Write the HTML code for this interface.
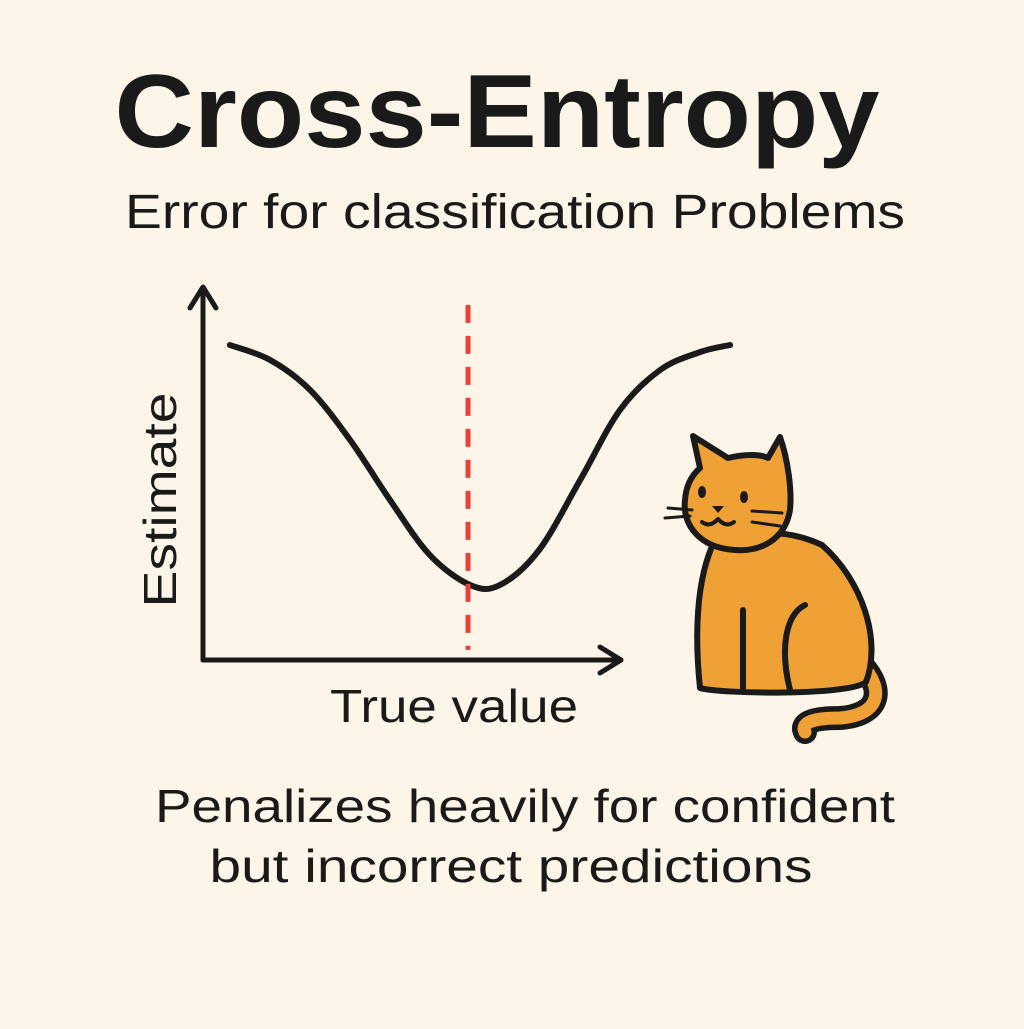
<!DOCTYPE html>
<html><head><meta charset="utf-8"><style>
html,body{margin:0;padding:0;background:#fdf5e8;}
body{width:1024px;height:1024px;overflow:hidden;position:relative;font-family:"Liberation Sans","DejaVu Sans",sans-serif;color:#1a1a1a;}
</style></head><body>
<svg width="1024" height="1024" viewBox="0 0 1024 1024">
<rect width="1024" height="1024" fill="#fdf5e8"/>
<text x="497" y="147" text-anchor="middle" font-size="104" font-weight="bold" font-family="Liberation Sans, sans-serif" fill="#1a1a1a" textLength="765" lengthAdjust="spacingAndGlyphs">Cross-Entropy</text>
<text x="515" y="228" text-anchor="middle" font-size="48" font-family="Liberation Sans, sans-serif" fill="#1a1a1a" textLength="780" lengthAdjust="spacingAndGlyphs">Error for classification Problems</text>
<g id="chart">
<line x1="203" y1="660" x2="203" y2="288" stroke="#1a1a1a" stroke-width="5" stroke-linecap="round"/>
<polyline points="190,308 203,287 216,308" fill="none" stroke="#1a1a1a" stroke-width="5" stroke-linecap="round" stroke-linejoin="round"/>
<line x1="203" y1="660" x2="620" y2="660" stroke="#1a1a1a" stroke-width="5" stroke-linecap="round"/>
<polyline points="600,647 621,660 600,673" fill="none" stroke="#1a1a1a" stroke-width="5" stroke-linecap="round" stroke-linejoin="round"/>
<text transform="translate(176,500) rotate(-90)" text-anchor="middle" font-size="46" fill="#1a1a1a" textLength="215" lengthAdjust="spacingAndGlyphs">Estimate</text>
<text x="454" y="722" text-anchor="middle" font-size="46" fill="#1a1a1a" textLength="248" lengthAdjust="spacingAndGlyphs">True value</text>
</g>
<text x="525" y="822" text-anchor="middle" font-size="46" fill="#1a1a1a" textLength="740" lengthAdjust="spacingAndGlyphs">Penalizes heavily for confident</text>
<text x="511" y="882" text-anchor="middle" font-size="46" fill="#1a1a1a" textLength="603" lengthAdjust="spacingAndGlyphs">but incorrect predictions</text>
<g stroke="#1a1a1a" stroke-width="6" stroke-linejoin="round" stroke-linecap="round">
<path d="M862,665 C885,690 880,715 840,718 C815,718 800,722 805,732" fill="none" stroke="#1a1a1a" stroke-width="24"/>
<path d="M862,665 C885,690 880,715 840,718 C815,718 800,722 805,732" fill="none" stroke="#f0a135" stroke-width="13"/>
<path d="M715,540 C695,580 695,640 700,688 C720,694 850,696 866,682 C882,640 862,580 822,545 C790,530 760,530 715,540 Z" fill="#f0a135"/>
<path d="M700,468 L693,436 L728,458 C745,454 760,454 768,458 L780,437 C788,460 792,490 790,510 C785,540 760,552 735,550 C700,548 682,525 685,500 C686,485 692,475 700,468 Z" fill="#f0a135"/>
<line x1="743" y1="610" x2="743" y2="688"/>
<path d="M805,605 C785,615 780,650 790,690" fill="none"/>
<g stroke="none" fill="#1a1a1a">
<ellipse cx="702" cy="492" rx="4" ry="6"/><ellipse cx="744" cy="497" rx="4" ry="6"/>
<path d="M712,506 l12,0 l-6,7 z"/>
</g>
<path d="M702,522 q8,6 16,-3 q8,9 16,3" fill="none" stroke-width="4"/>
<path d="M668,508 l24,2 M665,518 l25,-2 M752,511 l30,2 M752,522 l28,4" fill="none" stroke-width="3"/>
</g>
</svg>
<script>
const curveX = [0.64, 1.6, 2.55, 3.5, 4.45, 5.4, 6.36, 7.07, 8.0, 8.98, 9.93, 10.88, 11.83, 12.55];
const curveY = [8.4, 8.0, 7.2, 5.87, 4.27, 2.8, 2.0, 2.0, 2.93, 4.8, 6.67, 7.73, 8.21, 8.4];
const thresholdX = [6.31];
const thresholdY = [0.27, 9.47];
const sx = v => 203 + v * 42;
const sy = v => 660 - v * 37.5;
const chart = document.getElementById('chart');
const NS = 'http://www.w3.org/2000/svg';
const pts = curveX.map((x, i) => [sx(x), sy(curveY[i])]);
let d = 'M' + pts[0][0] + ',' + pts[0][1];
for (let i = 0; i < pts.length - 1; i++) {
  const p0 = pts[i - 1] || pts[i], p1 = pts[i], p2 = pts[i + 1], p3 = pts[i + 2] || p2;
  const c1x = p1[0] + (p2[0] - p0[0]) / 6, c1y = p1[1] + (p2[1] - p0[1]) / 6;
  const c2x = p2[0] - (p3[0] - p1[0]) / 6, c2y = p2[1] - (p3[1] - p1[1]) / 6;
  d += ' C' + c1x + ',' + c1y + ' ' + c2x + ',' + c2y + ' ' + p2[0] + ',' + p2[1];
}
const path = document.createElementNS(NS, 'path');
path.setAttribute('d', d);
path.setAttribute('fill', 'none');
path.setAttribute('stroke', '#1a1a1a');
path.setAttribute('stroke-width', '6');
path.setAttribute('stroke-linecap', 'round');


chart.appendChild(path);
const line = document.createElementNS(NS, 'line');
line.setAttribute('x1', sx(thresholdX[0]));
line.setAttribute('x2', sx(thresholdX[0]));
line.setAttribute('y1', sy(thresholdY[1]));
line.setAttribute('y2', sy(thresholdY[0]));
line.setAttribute('stroke', '#e8403a');
line.setAttribute('stroke-width', '5');
line.setAttribute('stroke-dasharray', '18 13');


chart.appendChild(line);
</script>
</body></html>
